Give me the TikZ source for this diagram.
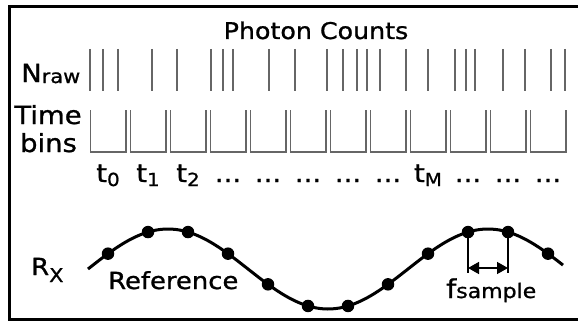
\documentclass[tikz,border=0pt]{standalone}
\usepackage{fontspec}
\setmainfont{DejaVu Sans}[FakeStretch=1.1, FakeBold=1]
\usetikzlibrary{arrows.meta}

% smaller text, lowered by #1, at size #2
\newcommand{\lowsub}[3]{\raisebox{-#1}{\fontsize{#2}{#2}\selectfont #3}}

\tikzset{
    count line/.style={draw=black!60, line width=1.5pt},
    bin wall/.style={draw=black!60, line width=1.5pt},
    big label/.style={inner sep=0pt, font=\fontsize{25}{28}\selectfont},
    mid label/.style={inner sep=0pt, font=\fontsize{23.5}{26}\selectfont},
    sample dot/.style={circle, fill=black, inner sep=0pt, minimum size=12.5pt},
    bracket/.style={line width=1.5pt},
}

\begin{document}
\begin{tikzpicture}[x=1pt,y=-1pt]
    \useasboundingbox (0,0) rectangle (578,321);
    % frame, right side is cut off
    \draw[line width=3pt] (578,7) -- (9.5,7) -- (9.5,319) -- (578,319);

    \node[inner sep=0pt, anchor=base, font=\fontsize{23}{26}\selectfont] (title) at (316,39) {Photon Counts};

    % raw photon counts
    \node[big label, anchor=base west] (nraw) at (21,82) {N\lowsub{1pt}{19}{raw}};
    \foreach \x in {90,103,118,152,177,211,223,233,269,295,327,343,357,367,380,406,428,455,466,475,503,525,551,565}
        \draw[count line] (\x,49) -- (\x,91);

    % time bins
    \node[big label, anchor=base] (time) at (48,124) {Time};
    \node[big label, anchor=base] (bins) at (48.5,152) {bins};
    \foreach \k in {0,...,11}
        \draw[bin wall] ({90.5+40*\k},110) |- ({126+40*\k},152) -- ({126+40*\k},110);
    \foreach \k/\s in {0/0,1/1,2/2,8/M}
        \node[big label, anchor=base] (t\s) at ({108+40*\k},182) {t\lowsub{4pt}{18}{\s}};
    \foreach \k in {3,4,5,6,7,9,10,11}
        \node[big label, anchor=base] (d\k) at ({108+40*\k},182) {...};

    % reference signal and its samples
    \node[mid label, anchor=base west] (rx) at (31,275) {R\lowsub{7pt}{19}{X}};
    \draw[line width=3pt] plot[domain=88:563, samples=120, smooth] (\x,{269-40*cos((\x-168)*1.125)});
    \foreach \k in {0,...,11}
        \node[sample dot] (s\k) at ({108+40*\k},{269-40*cos((108+40*\k-168)*1.125)}) {};
    \node[mid label, anchor=base west] (ref) at (108,289) {Reference};

    % sampling interval
    \coordinate (foot) at (488,273);
    \coordinate (span) at (488,268);
    \draw[bracket] (s9) -- (s9 |- foot);
    \draw[bracket] (s10) -- (s10 |- foot);
    \draw[bracket, {Triangle[length=11pt,width=12pt]}-{Triangle[length=11pt,width=12pt]}] (s9 |- span) -- (s10 |- span);
    \node[inner sep=0pt, anchor=base west, font=\fontsize{26}{28}\selectfont] (fs) at (446,298) {f\lowsub{0pt}{20}{sample}};
\end{tikzpicture}
\end{document}
